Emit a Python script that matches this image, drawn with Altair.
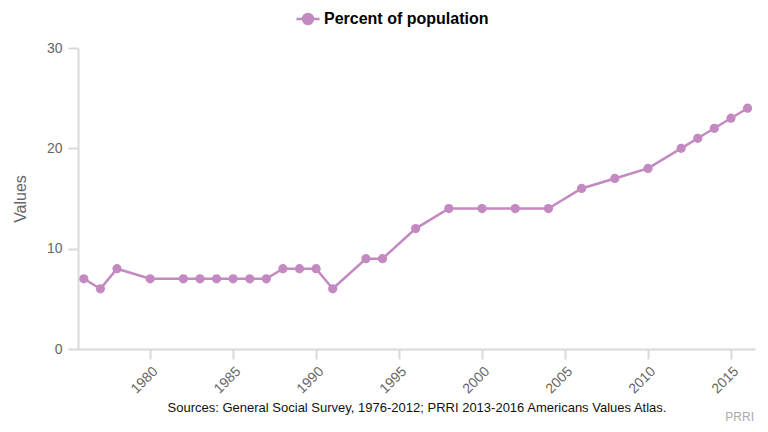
import altair as alt
import pandas as pd

years = [1976, 1977, 1978, 1980, 1982, 1983, 1984, 1985, 1986, 1987, 1988, 1989, 1990,
         1991, 1993, 1994, 1996, 1998, 2000, 2002, 2004, 2006, 2008, 2010, 2012, 2013,
         2014, 2015, 2016]
values = [7, 6, 8, 7, 7, 7, 7, 7, 7, 7, 8, 8, 8, 6, 9, 9, 12, 14, 14, 14, 14, 16, 17, 18,
          20, 21, 22, 23, 24]
series_name = "Percent of population"
x_ticks = [1980, 1985, 1990, 1995, 2000, 2005, 2010, 2015]
y_ticks = [0, 10, 20, 30]
source_text = "Sources: General Social Survey, 1976-2012; PRRI 2013-2016 Americans Values Atlas."
credit_text = "PRRI"

COLOR = "#c389c1"
FONT = "Liberation Sans"

df = pd.DataFrame({"year": years, "value": values, "series": [series_name] * len(years)})

W, H = 677, 301

base = alt.Chart(df)

line = base.mark_line(strokeWidth=2.5, color=COLOR, point=alt.OverlayMarkDef(size=85, filled=True, color=COLOR, opacity=1)).encode(
    x=alt.X("year:Q",
            scale=alt.Scale(domain=[1975.65, 2016.45], nice=False, zero=False),
            axis=alt.Axis(values=x_ticks, format="d", title=None, grid=False,
                          labelAngle=-45, labelFontSize=14, labelColor="#666666",
                          labelFont=FONT, domainColor="#d9d9d9", tickColor="#d9d9d9",
                          tickSize=10, labelPadding=5, domainWidth=2, tickWidth=2)),
    y=alt.Y("value:Q",
            scale=alt.Scale(domain=[0, 30], nice=False),
            axis=alt.Axis(values=y_ticks, title="Values", grid=False,
                          titleFontSize=16, titleFont=FONT, titleColor="#666666",
                          titleFontWeight="normal", titlePadding=18,
                          labelFontSize=14, labelColor="#666666", labelFont=FONT,
                          domainColor="#d9d9d9", tickColor="#d9d9d9", tickSize=10,
                          labelPadding=6, domainWidth=2, tickWidth=2)),
    color=alt.Color("series:N",
                    scale=alt.Scale(domain=[series_name], range=[COLOR]),
                    legend=alt.Legend(title=None, orient="none", legendX=222, legendY=-37,
                                      labelFontSize=16, labelFontWeight="bold",
                                      labelFont=FONT, labelColor="#000000", labelLimit=400,
                                      symbolType="M-1.75,0H1.75M0.75,0A0.75,0.75 0 1,1 -0.75,0A0.75,0.75 0 1,1 0.75,0",
                                      symbolSize=175, symbolStrokeWidth=2.5,
                                      symbolFillColor=COLOR, symbolStrokeColor=COLOR,
                                      symbolOpacity=1, labelOffset=8)),
)

src = alt.Chart(pd.DataFrame({"t": [source_text]})).mark_text(
    fontSize=13, font=FONT, color="#111111", align="center", baseline="middle"
).encode(text="t:N", x=alt.value(339), y=alt.value(360))

cred = alt.Chart(pd.DataFrame({"t": [credit_text]})).mark_text(
    fontSize=12, font=FONT, color="#aaaaaa", align="right", baseline="middle"
).encode(text="t:N", x=alt.value(676), y=alt.value(369))

chart = alt.layer(line, src, cred).properties(
    width=W, height=H,
    autosize=alt.AutoSizeParams(type="none"),
    padding={"left": 70, "top": 40, "right": 5, "bottom": 75},
).configure(background="white").configure_view(stroke=None)

chart.save("out.html", embed_options={"renderer": "svg", "actions": False})
